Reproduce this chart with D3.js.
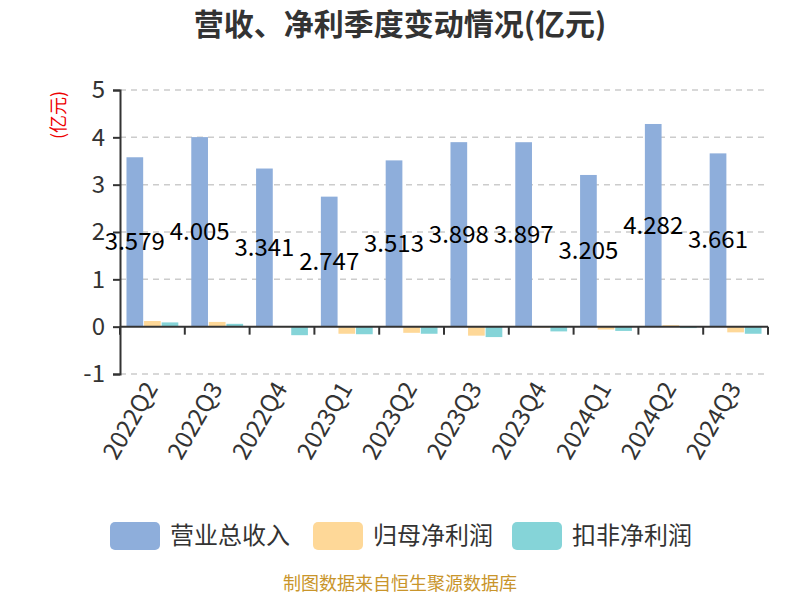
<!DOCTYPE html>
<html><head><meta charset="utf-8">
<script src="https://cdn.jsdelivr.net/npm/d3@7/dist/d3.min.js"></script>
<style>body{margin:0;background:#fff}svg{display:block}</style>
</head><body>
<svg id="c" width="800" height="600"></svg>
<script>
const categories = ["2022Q2","2022Q3","2022Q4","2023Q1","2023Q2","2023Q3","2023Q4","2024Q1","2024Q2","2024Q3"];
const revenue = [3.579,4.005,3.341,2.747,3.513,3.898,3.897,3.205,4.282,3.661];
const netProfit = [0.12,0.10,-0.01,-0.15,-0.13,-0.19,-0.02,-0.06,0.03,-0.12];
const deductedProfit = [0.09,0.06,-0.18,-0.16,-0.15,-0.22,-0.10,-0.09,-0.03,-0.15];
const seriesNames = ["营业总收入","归母净利润","扣非净利润"];
const colors = ["#8eaedb","#fed898","#85d4d8"];
const yTicks = [-1,0,1,2,3,4,5];

(function(){
const font = "'Noto Sans CJK SC','Noto Sans',sans-serif";
const svg = d3.select("#c").style("font-family", font);
const mLeft = 120, mRight = 768, mTop = 90, mBottom = 374;

const x = d3.scaleBand().domain(categories).range([mLeft, mRight]).padding(0);
const y = d3.scaleLinear().domain([-1, 5]).range([mBottom, mTop]);
const bw = x.bandwidth();
const x1 = d3.scaleBand().domain([0,1,2]).range([bw*0.1, bw*0.9]).paddingInner(0.05);

// title
svg.append("text").attr("x", 400).attr("y", 35).attr("text-anchor","middle")
  .attr("font-size", 30).attr("font-weight","bold").attr("fill","#333")
  .text("营收、净利季度变动情况(亿元)");

// grid
svg.append("g").selectAll("line").data(yTicks.filter(d=>d!==0)).join("line")
  .attr("x1", mLeft).attr("x2", mRight).attr("y1", d=>y(d)).attr("y2", d=>y(d))
  .attr("stroke","#ccc").attr("stroke-width",1.5).attr("stroke-dasharray","6,5");

// y axis
const yAxis = svg.append("g").attr("transform",`translate(${mLeft},0)`)
  .call(d3.axisLeft(y).tickValues(yTicks).tickSize(7).tickPadding(8).tickFormat(d=>String(d)));
yAxis.select(".domain").attr("stroke","#333").attr("stroke-width",2);
yAxis.selectAll(".tick line").attr("stroke","#333").attr("stroke-width",2);
yAxis.selectAll(".tick text").attr("font-size",24).attr("fill","#333").attr("font-family",font);

// y name
svg.append("text").attr("transform","translate(59,115) rotate(-90)").attr("text-anchor","middle")
  .attr("dy","0.35em").attr("font-size",18).attr("fill","#e00").text("(亿元)");

// bars
const data = categories.map((c,i)=>({c, vals:[revenue[i], netProfit[i], deductedProfit[i]]}));
const groups = svg.append("g").selectAll("g").data(data).join("g")
  .attr("transform", d=>`translate(${x(d.c)},0)`);
groups.selectAll("rect").data(d=>d.vals.map((v,k)=>({v,k}))).join("rect")
  .attr("x", d=>x1(d.k)).attr("width", x1.bandwidth())
  .attr("y", d=>y(Math.max(0,d.v))).attr("height", d=>Math.abs(y(d.v)-y(0)))
  .attr("fill", d=>colors[d.k]);

// x axis at zero
const xAxisG = svg.append("g").attr("transform",`translate(0,${y(0)})`);
xAxisG.append("line").attr("x1",mLeft).attr("x2",mRight).attr("stroke","#333").attr("stroke-width",2);
const bounds = categories.map(c=>x(c)).concat([mRight]);
xAxisG.selectAll(".tk").data(bounds).join("line").attr("class","tk")
  .attr("x1",d=>d).attr("x2",d=>d).attr("y1",0).attr("y2",8).attr("stroke","#333").attr("stroke-width",2);

// x labels
svg.append("g").selectAll("text").data(categories).join("text")
  .attr("transform", d=>`translate(${x(d)+bw/2-1},${mBottom+10}) rotate(-60)`)
  .attr("text-anchor","end").attr("dy","0.35em").attr("font-size",24).attr("fill","#333")
  .text(d=>d);

// value labels
svg.append("g").selectAll("text").data(data).join("text")
  .attr("x", d=>x(d.c)+x1(0)+x1.bandwidth()/2)
  .attr("y", d=>(y(d.vals[0])+y(0))/2)
  .attr("text-anchor","middle").attr("dy","0.35em").attr("font-size",24).attr("fill","#000")
  .text(d=>d3.format(".3f")(d.vals[0]));

// legend
const legX = [110, 313, 512];
const leg = svg.append("g").selectAll("g").data(seriesNames).join("g")
  .attr("transform",(d,i)=>`translate(${legX[i]},522)`);
leg.append("rect").attr("width",50).attr("height",28).attr("rx",5).attr("fill",(d,i)=>colors[i]);
leg.append("text").attr("x",60).attr("y",14).attr("dy","0.35em").attr("font-size",24).attr("fill","#333").text(d=>d);

// footer
svg.append("text").attr("x",400).attr("y",590).attr("text-anchor","middle")
  .attr("font-size",18).attr("fill","#c9952b").text("制图数据来自恒生聚源数据库");
})();
</script>
</body></html>
